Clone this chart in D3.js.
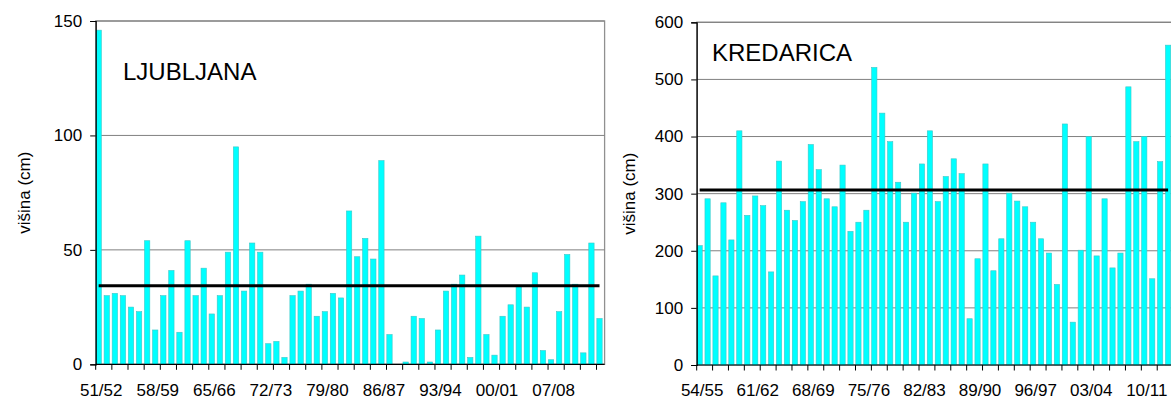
<!DOCTYPE html>
<html>
<head>
<meta charset="utf-8">
<script src="https://cdn.jsdelivr.net/npm/d3@7"></script>
<style>
  body { margin: 0; background: #fff; }
  text { font-family: "Liberation Sans", Arial, sans-serif; fill: #000; }
</style>
</head>
<body>
<script>
// seasons 51/52 .. 13/14 (Ljubljana uses all, Kredarica starts at 54/55)
var seasons = ["51/52","52/53","53/54","54/55","55/56","56/57","57/58","58/59","59/60","60/61",
  "61/62","62/63","63/64","64/65","65/66","66/67","67/68","68/69","69/70","70/71",
  "71/72","72/73","73/74","74/75","75/76","76/77","77/78","78/79","79/80","80/81",
  "81/82","82/83","83/84","84/85","85/86","86/87","87/88","88/89","89/90","90/91",
  "91/92","92/93","93/94","94/95","95/96","96/97","97/98","98/99","99/00","00/01",
  "01/02","02/03","03/04","04/05","05/06","06/07","07/08","08/09","09/10","10/11",
  "11/12","12/13","13/14"];

// maximum snow height per season (cm)
var ljubljana = [146, 30, 31, 30, 25, 23, 54, 15, 30, 41, 14, 54, 30, 42, 22, 30, 49, 95, 32, 53,
  49, 9, 10, 3, 30, 32, 35, 21, 23, 31, 29, 67, 47, 55, 46, 89, 13, 0, 1, 21,
  20, 1, 15, 32, 35, 39, 3, 56, 13, 4, 21, 26, 34, 25, 40, 6, 2, 23, 48, 35,
  5, 53, 20];
var kredarica = [209, 291, 156, 284, 219, 410, 262, 296, 279, 163, 357, 271, 253, 286, 386, 342, 291, 277, 350, 234,
  250, 271, 521, 441, 391, 320, 250, 301, 352, 410, 286, 330, 361, 335, 81, 186, 352, 165, 221, 301,
  287, 277, 250, 221, 196, 141, 422, 75, 201, 400, 191, 291, 170, 196, 487, 391, 400, 151, 356, 560];

// long-term averages (black line)
var ljubljanaMean = 34.3;
var kredaricaMean = 306.5;

var ljubljanaTicks = [0, 50, 100, 150];
var kredaricaTicks = [0, 100, 200, 300, 400, 500, 600];

var svg = d3.select("body").append("svg")
    .attr("width", 1171)
    .attr("height", 399);

drawChart({
  cats: seasons, values: ljubljana, mean: ljubljanaMean, ticks: ljubljanaTicks,
  name: "LJUBLJANA", x0: 95.7, x1: 604.6, y0: 364.3, y1: 21,
  nameX: 123, nameY: 80, titleX: 30
});

drawChart({
  cats: seasons.slice(3), values: kredarica, mean: kredaricaMean, ticks: kredaricaTicks,
  name: "KREDARICA", x0: 696.7, x1: 1173.1, y0: 365, y1: 22.3,
  nameX: 712, nameY: 61, titleX: 635
});

function drawChart(c) {
  var g = svg.append("g");

  var x = d3.scaleBand()
      .domain(c.cats)
      .range([c.x0, c.x1])
      .padding(0);
  var bw = x.bandwidth();

  var y = d3.scaleLinear()
      .domain([0, d3.max(c.ticks)])
      .range([c.y0, c.y1]);

  // plot area border + gridlines
  g.append("rect")
      .attr("x", c.x0).attr("y", c.y1)
      .attr("width", c.x1 - c.x0).attr("height", c.y0 - c.y1)
      .attr("fill", "none")
      .attr("stroke", "#909090")
      .attr("stroke-width", 1.3);

  g.selectAll(".grid")
    .data(c.ticks.slice(1))
    .enter().append("line")
      .attr("x1", c.x0).attr("x2", c.x1)
      .attr("y1", function(d) { return y(d); })
      .attr("y2", function(d) { return y(d); })
      .attr("stroke", "#808080")
      .attr("stroke-width", 1);

  // bars
  g.selectAll(".bar")
    .data(c.values)
    .enter().append("rect")
      .attr("x", function(d, i) { return x(c.cats[i]) + bw * 0.04; })
      .attr("y", function(d) { return y(d); })
      .attr("width", bw * 0.66)
      .attr("height", function(d) { return c.y0 - y(d); })
      .attr("fill", "#00ffff")
      .attr("stroke", "#3cc8c8")
      .attr("stroke-width", 0.6);

  // mean line, from first to last bar centre
  var first = c.cats[0], last = c.cats[c.cats.length - 1];
  g.append("line")
      .attr("x1", x(first) + bw * 0.37)
      .attr("x2", x(last) + bw * 0.37)
      .attr("y1", y(c.mean)).attr("y2", y(c.mean))
      .attr("stroke", "#000")
      .attr("stroke-width", 3);

  // y axis
  var yAxis = d3.axisLeft(y)
      .tickValues(c.ticks)
      .tickSize(5.5)
      .tickPadding(8);
  var ya = g.append("g")
      .attr("transform", "translate(" + c.x0 + ",0)")
      .call(yAxis);
  ya.select(".domain").attr("stroke", "#000").attr("stroke-width", 1.2);
  ya.selectAll("text").style("font-size", "17px");

  // x axis: ticks every 2 seasons, labels every 7
  var bounds = d3.range(0, c.cats.length, 2).map(function(i) { return x(c.cats[i]); });
  var xa = g.append("g");
  xa.append("line")
      .attr("x1", c.x0).attr("x2", c.x1)
      .attr("y1", c.y0).attr("y2", c.y0)
      .attr("stroke", "#000").attr("stroke-width", 1.2);
  xa.selectAll(".tick")
    .data(bounds)
    .enter().append("line")
      .attr("x1", function(d) { return d; })
      .attr("x2", function(d) { return d; })
      .attr("y1", c.y0).attr("y2", c.y0 + 5.5)
      .attr("stroke", "#000");
  xa.selectAll(".lbl")
    .data(c.cats.filter(function(d, i) { return i % 7 === 0; }))
    .enter().append("text")
      .attr("x", function(d) { return x(d) + bw / 2 + 1.5; })
      .attr("y", 396)
      .attr("text-anchor", "middle")
      .style("font-size", "17px")
      .text(function(d) { return d; });

  // station name
  g.append("text")
      .attr("x", c.nameX).attr("y", c.nameY)
      .style("font-size", "24px")
      .text(c.name);

  // y title
  g.append("text")
      .attr("transform", "translate(" + c.titleX + "," + ((c.y0 + c.y1) / 2) + ") rotate(-90)")
      .attr("text-anchor", "middle")
      .style("font-size", "17px")
      .text("višina (cm)");
}
</script>
</body>
</html>
